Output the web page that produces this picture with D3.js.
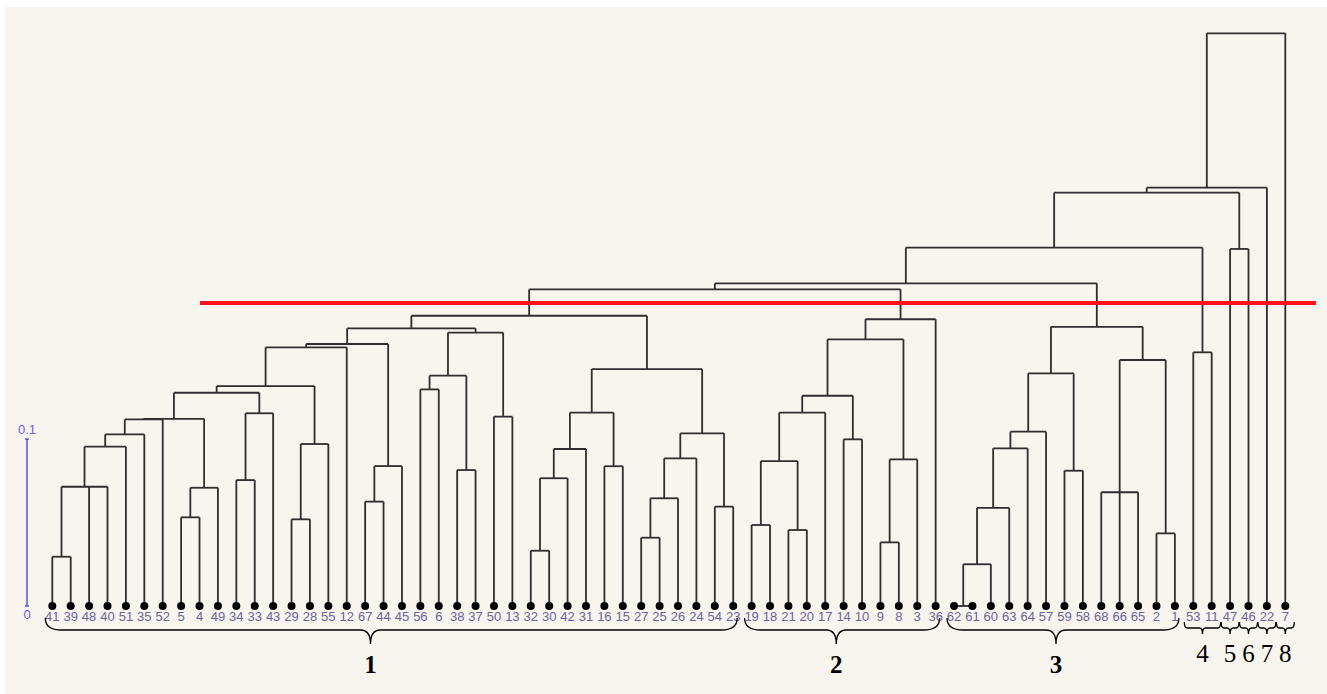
<!DOCTYPE html>
<html>
<head>
<meta charset="utf-8">
<script src="https://cdn.jsdelivr.net/npm/d3@7"></script>
<style>
  body { margin: 0; background: #ffffff; }
  svg { display: block; }
</style>
</head>
<body>
<div id="chart"></div>
<script>
// leaf order, left to right
var leafOrder = ["41","39","48","40","51","35","52","5","4","49","34","33","43","29","28","55","12","67","44","45",
  "56","6","38","37","50","13","32","30","42","31","16","15","27","25","26","24","54","23",
  "19","18","21","20","17","14","10","9","8","3","36",
  "62","61","60","63","64","57","59","58","68","66","65","2","1",
  "53","11","47","46","22","7"];

// merges: id, children, height (distance)
var nodeIds = ["a1","a2","a3","a4","a5","b1","b2","a6","c1","c2","a7","d1","d2","a8","a9","e1","e2","a10",
  "f1","f2","f3","f4","f5","a11","g1","g2","g3","g4","g5","h1","h2","h3","h4","h5","g6","G1",
  "i1","i2","i3","i4","i5","i6","j1","j2","i7","G2","V",
  "k1","k2","k3","k4","k5","k6","k7","l1","l2","l3","G3","X","m1","Z","n1","AA","AB","R"];
var nodeKids = [["41","39"],["a1","48","40"],["a2","51"],["a3","35"],["a4","52"],["5","4"],["b1","49"],["a5","b2"],
  ["34","33"],["c1","43"],["a6","c2"],["29","28"],["d1","55"],["a7","d2"],["a8","12"],["67","44"],["e1","45"],["a9","e2"],
  ["56","6"],["38","37"],["f1","f2"],["50","13"],["f3","f4"],["a10","f5"],
  ["32","30"],["g1","42"],["g2","31"],["16","15"],["g3","g4"],["27","25"],["h1","26"],["h2","24"],["54","23"],["h3","h4"],
  ["g5","h5"],["a11","g6"],
  ["19","18"],["21","20"],["i1","i2"],["i3","17"],["14","10"],["i4","i5"],["9","8"],["j1","3"],["i6","j2"],["i7","36"],
  ["G1","G2"],
  ["62","61"],["k1","60"],["k2","63"],["k3","64"],["k4","57"],["59","58"],["k5","k6"],["68","66","65"],["2","1"],
  ["l1","l2"],["k7","l3"],["V","G3"],["53","11"],["X","m1"],["47","46"],["Z","n1"],["AA","22"],["AB","7"]];
var nodeHeights = [0.0295,0.0714,0.0954,0.1028,0.1117,0.0531,0.0708,0.1121,0.0754,0.1154,0.1277,0.0519,0.0970,0.1317,
  0.1549,0.0625,0.0838,0.1569,0.1297,0.0814,0.1379,0.1134,0.1637,0.1663,
  0.0331,0.0765,0.0940,0.0837,0.1158,0.0409,0.0645,0.0884,0.0595,0.1034,0.1419,0.1738,
  0.0485,0.0455,0.0868,0.1158,0.0998,0.1259,0.0381,0.0878,0.1597,0.1717,0.1896,
  0,0.0250,0.0587,0.0944,0.1044,0.0810,0.1393,0.0681,0.0435,0.1473,0.1672,0.1932,0.1519,0.2146,0.2138,0.2475,0.2505,0.3429];

var cutHeight = 0.1814;
var scaleTicks = [0, 0.1];
var scaleTickLabels = ["0", "0.1"];

// cluster braces
var groupLabels = ["1","2","3","4","5","6","7","8"];
var groupFirst = ["41","19","62","53","47","46","22","7"];
var groupLast  = ["23","36","1","11","47","46","22","7"];

var width = 1327, height = 694;
var svg = d3.select("#chart").append("svg")
  .attr("width", width)
  .attr("height", height);

svg.append("rect")
  .attr("x", 5).attr("y", 7)
  .attr("width", width - 5).attr("height", height - 7)
  .attr("fill", "#f8f4ee");

var xscale = d3.scalePoint().domain(leafOrder).range([52.3, 1285.3]);
var yscale = d3.scaleLinear().domain([0, 0.1]).range([606, 439]);

// build tree
var byId = {};
leafOrder.forEach(function (d) { byId[d] = {name: d, h: 0}; });
nodeIds.forEach(function (id, i) {
  byId[id] = {name: id, h: nodeHeights[i], kids: nodeKids[i]};
});
nodeIds.forEach(function (id) {
  byId[id].children = byId[id].kids.map(function (k) { return byId[k]; });
});
var root = d3.hierarchy(byId["R"]);
root.eachAfter(function (n) {
  if (!n.children) {
    n.px = xscale(n.data.name);
  } else {
    n.px = (n.children[0].px + n.children[n.children.length - 1].px) / 2;
  }
  n.py = yscale(n.data.h);
});

var g = svg.append("g");
var internal = root.descendants().filter(function (n) { return n.children; });

// horizontal bars
g.selectAll("line.hbar").data(internal)
  .enter().append("line")
  .attr("class", "hbar")
  .attr("x1", function (n) { return n.children[0].px; })
  .attr("x2", function (n) { return n.children[n.children.length - 1].px; })
  .attr("y1", function (n) { return n.py; })
  .attr("y2", function (n) { return n.py; })
  .attr("stroke", "#2e2e2e")
  .attr("stroke-width", 1.8);

// verticals
g.selectAll("line.vbar").data(root.descendants().filter(function (n) { return n.parent; }))
  .enter().append("line")
  .attr("class", "vbar")
  .attr("x1", function (n) { return n.px; })
  .attr("x2", function (n) { return n.px; })
  .attr("y1", function (n) { return n.py; })
  .attr("y2", function (n) { return n.parent.py; })
  .attr("stroke", "#2e2e2e")
  .attr("stroke-width", 1.8);

// leaf dots + labels
var leaves = root.leaves();
g.selectAll("circle").data(leaves)
  .enter().append("circle")
  .attr("cx", function (n) { return n.px; })
  .attr("cy", function (n) { return n.py; })
  .attr("r", 4)
  .attr("fill", "#000");

g.selectAll("text.leaf").data(leaves)
  .enter().append("text")
  .attr("class", "leaf")
  .attr("x", function (n) { return n.px; })
  .attr("y", 621)
  .attr("text-anchor", "middle")
  .attr("font-family", "Liberation Sans, Arial, sans-serif")
  .attr("font-size", 13)
  .attr("fill", "#66669a")
  .text(function (n) { return n.data.name; });

// red cut line
svg.append("line")
  .attr("x1", 200).attr("x2", 1316)
  .attr("y1", yscale(cutHeight)).attr("y2", yscale(cutHeight))
  .attr("stroke", "#ff1020")
  .attr("stroke-width", 4);

// scale bar
var sb = svg.append("g").attr("transform", "translate(27,0)");
sb.append("line")
  .attr("x1", 0).attr("x2", 0)
  .attr("y1", yscale(scaleTicks[0])).attr("y2", yscale(scaleTicks[1]))
  .attr("stroke", "#3c3cf0").attr("stroke-width", 1.3);
sb.selectAll("line.cap").data(scaleTicks)
  .enter().append("line")
  .attr("class", "cap")
  .attr("x1", -2).attr("x2", 2)
  .attr("y1", function (d) { return yscale(d); })
  .attr("y2", function (d) { return yscale(d); })
  .attr("stroke", "#3c3cf0").attr("stroke-width", 1.3);
sb.selectAll("text").data(scaleTicks)
  .enter().append("text")
  .attr("x", 0)
  .attr("y", function (d, i) { return i === 0 ? yscale(d) + 13 : yscale(d) - 5; })
  .attr("text-anchor", "middle")
  .attr("font-family", "Liberation Sans, Arial, sans-serif")
  .attr("font-size", 13)
  .attr("fill", "#6a5cf0")
  .text(function (d, i) { return scaleTickLabels[i]; });

// braces
function bracePath(x1, x2, xt, y0, yl, yt, re, rt) {
  return "M" + x1 + "," + y0 +
    " Q" + x1 + "," + yl + " " + (x1 + re) + "," + yl +
    " L" + (xt - rt) + "," + yl +
    " Q" + xt + "," + yl + " " + xt + "," + yt +
    " Q" + xt + "," + yl + " " + (xt + rt) + "," + yl +
    " L" + (x2 - re) + "," + yl +
    " Q" + x2 + "," + yl + " " + x2 + "," + y0;
}

var groups = groupLabels.map(function (lab, i) {
  var big = i < 3;
  var x1 = xscale(groupFirst[i]) - (big ? 7 : 9);
  var x2 = xscale(groupLast[i]) + (big ? 4 : 9);
  var xt = big ? x1 + 0.47 * (x2 - x1) : (x1 + x2) / 2;
  return {label: lab, big: big, x1: x1, x2: x2, xt: xt};
});

var bg = svg.append("g");
bg.selectAll("path").data(groups)
  .enter().append("path")
  .attr("d", function (d) {
    return d.big ? bracePath(d.x1, d.x2, d.xt, 618, 630, 644, 16, 10)
                 : bracePath(d.x1, d.x2, d.xt, 622, 628, 634, 3, 3);
  })
  .attr("fill", "none")
  .attr("stroke", "#000")
  .attr("stroke-width", 1.3);

bg.selectAll("text").data(groups)
  .enter().append("text")
  .attr("x", function (d) { return d.xt; })
  .attr("y", function (d) { return d.big ? 673 : 662; })
  .attr("text-anchor", "middle")
  .attr("font-family", "Liberation Serif, Times New Roman, serif")
  .attr("font-weight", function (d) { return d.big ? "bold" : "normal"; })
  .attr("font-size", 25)
  .attr("fill", "#000")
  .text(function (d) { return d.label; });
</script>
</body>
</html>
